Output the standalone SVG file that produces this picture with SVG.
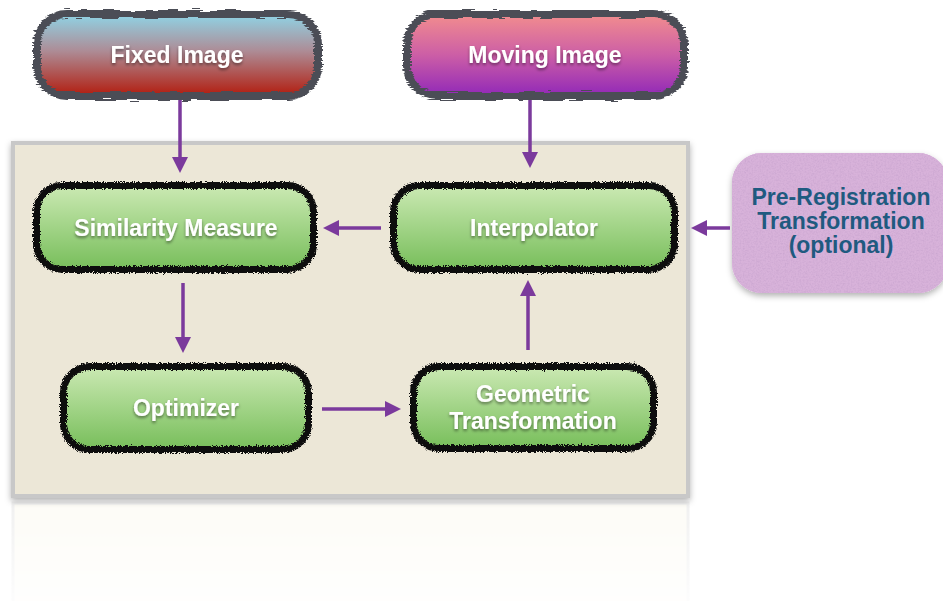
<svg xmlns="http://www.w3.org/2000/svg" width="943" height="601" viewBox="0 0 943 601">
  <style>
    .lbl { font-family: "Liberation Sans", Arial, sans-serif; font-weight: bold; font-size: 23px; text-anchor: middle; }
    .white { fill: #ffffff; filter: url(#txtShadow); }
    .blue { fill: #1f5a80; }
    .conn { stroke: #7b3a9c; stroke-width: 3.5; fill: none; marker-end: url(#head); }
    .greenBox { fill: url(#gGreen); }
    .greenEdge { fill: none; stroke: #0c0c0c; stroke-width: 7; filter: url(#rough); }
    .topEdge { fill: none; stroke: #4b4e56; stroke-width: 8; filter: url(#brush); }
  </style>
  <defs>
    <linearGradient id="gFixed" x1="0" y1="0" x2="0" y2="1">
      <stop offset="0" stop-color="#8fd4e6"/>
      <stop offset="0.45" stop-color="#ad8c96"/>
      <stop offset="1" stop-color="#b21c0e"/>
    </linearGradient>
    <linearGradient id="gMoving" x1="0" y1="0" x2="0" y2="1">
      <stop offset="0" stop-color="#f28d8e"/>
      <stop offset="0.5" stop-color="#cc5ea6"/>
      <stop offset="1" stop-color="#9128b8"/>
    </linearGradient>
    <linearGradient id="gGreen" x1="0" y1="0" x2="0" y2="1">
      <stop offset="0" stop-color="#cbe9b3"/>
      <stop offset="1" stop-color="#77be5a"/>
    </linearGradient>
    <linearGradient id="gFade" x1="0" y1="0" x2="0" y2="1">
      <stop offset="0" stop-color="#fff" stop-opacity="0.6"/>
      <stop offset="1" stop-color="#fff" stop-opacity="0.1"/>
    </linearGradient>
    <mask id="fadeMask">
      <rect x="0" y="500" width="943" height="101" fill="url(#gFade)"/>
    </mask>
    <filter id="rough" x="-5%" y="-15%" width="110%" height="130%">
      <feTurbulence type="fractalNoise" baseFrequency="0.9" numOctaves="2" seed="4" result="n"/>
      <feDisplacementMap in="SourceGraphic" in2="n" scale="5" xChannelSelector="R" yChannelSelector="G"/>
    </filter>
    <filter id="brush" x="-5%" y="-15%" width="110%" height="130%">
      <feTurbulence type="fractalNoise" baseFrequency="0.05 0.7" numOctaves="2" seed="7" result="n"/>
      <feDisplacementMap in="SourceGraphic" in2="n" scale="6" xChannelSelector="R" yChannelSelector="G"/>
    </filter>
    <filter id="txtShadow" x="-10%" y="-30%" width="120%" height="160%">
      <feDropShadow dx="0" dy="2" stdDeviation="1.5" flood-color="#000" flood-opacity="0.45"/>
    </filter>
    <filter id="boxShadow" x="-10%" y="-10%" width="120%" height="130%">
      <feDropShadow dx="0" dy="3" stdDeviation="3" flood-color="#000" flood-opacity="0.3"/>
    </filter>
    <filter id="grain" x="0" y="0" width="100%" height="100%">
      <feTurbulence type="fractalNoise" baseFrequency="0.6" numOctaves="3" seed="2" result="n"/>
      <feColorMatrix in="n" type="matrix" values="0 0 0 0 0.55  0 0 0 0 0.35  0 0 0 0 0.6  0 0 0 1.2 -0.45" result="t"/>
      <feComposite in="t" in2="SourceGraphic" operator="in" result="tc"/>
      <feMerge><feMergeNode in="SourceGraphic"/><feMergeNode in="tc"/></feMerge>
    </filter>
    <marker id="head" viewBox="0 0 16 16" markerWidth="16" markerHeight="16" refX="12" refY="8" orient="auto" markerUnits="userSpaceOnUse">
      <path d="M0,0 L16,8 L0,16 z" fill="#7b3a9c"/>
    </marker>
  </defs>

  <rect x="0" y="0" width="943" height="601" fill="#ffffff"/>

  <!-- registration framework panel and its reflection -->
  <g id="panel">
    <g mask="url(#fadeMask)">
      <rect x="13" y="503" width="675" height="110" fill="#fbf9f0" stroke="#e6e6e6" stroke-width="3"/>
    </g>
    <rect x="13" y="143" width="675" height="353" fill="#ece7d7" stroke="#c8c8c8" stroke-width="4" filter="url(#boxShadow)"/>
  </g>

  <g id="fixed-image">
    <rect x="37" y="14" width="281" height="82" rx="30" fill="url(#gFixed)"/>
    <rect class="topEdge" x="37" y="14" width="281" height="82" rx="30"/>
    <text class="lbl white" x="177" y="63">Fixed Image</text>
  </g>

  <g id="moving-image">
    <rect x="407" y="14" width="277" height="82" rx="30" fill="url(#gMoving)"/>
    <rect class="topEdge" x="407" y="14" width="277" height="82" rx="30"/>
    <text class="lbl white" x="545" y="63">Moving Image</text>
  </g>

  <g id="similarity-measure">
    <rect class="greenBox" x="36.5" y="185.5" width="277" height="84" rx="26"/>
    <rect class="greenEdge" x="36.5" y="185.5" width="277" height="84" rx="26"/>
    <text class="lbl white" x="176" y="236">Similarity Measure</text>
  </g>

  <g id="interpolator">
    <rect class="greenBox" x="393.5" y="185.5" width="281" height="84" rx="26"/>
    <rect class="greenEdge" x="393.5" y="185.5" width="281" height="84" rx="26"/>
    <text class="lbl white" x="534" y="236">Interpolator</text>
  </g>

  <g id="optimizer">
    <rect class="greenBox" x="63.5" y="366.5" width="245" height="83" rx="26"/>
    <rect class="greenEdge" x="63.5" y="366.5" width="245" height="83" rx="26"/>
    <text class="lbl white" x="186" y="416">Optimizer</text>
  </g>

  <g id="geometric-transformation">
    <rect class="greenBox" x="413.5" y="366.5" width="240" height="82" rx="26"/>
    <rect class="greenEdge" x="413.5" y="366.5" width="240" height="82" rx="26"/>
    <text class="lbl white" x="533" y="402">Geometric</text>
    <text class="lbl white" x="533" y="429">Transformation</text>
  </g>

  <g id="pre-registration">
    <rect x="732" y="153" width="216" height="140" rx="30" fill="#d8b2da" filter="url(#boxShadow)"/>
    <rect x="732" y="153" width="216" height="140" rx="30" fill="#d8b2da" filter="url(#grain)"/>
    <text class="lbl blue" x="841" y="205">Pre-Registration</text>
    <text class="lbl blue" x="841" y="229">Transformation</text>
    <text class="lbl blue" x="841" y="253">(optional)</text>
  </g>

  <g id="connectors">
    <line class="conn" x1="180" y1="100" x2="180" y2="169"/>
    <line class="conn" x1="530" y1="100" x2="530" y2="164"/>
    <line class="conn" x1="381" y1="228" x2="327" y2="228"/>
    <line class="conn" x1="730" y1="228" x2="695" y2="228"/>
    <line class="conn" x1="183" y1="283" x2="183" y2="349"/>
    <line class="conn" x1="322" y1="409" x2="397" y2="409"/>
    <line class="conn" x1="528" y1="350" x2="528" y2="284"/>
  </g>
</svg>
